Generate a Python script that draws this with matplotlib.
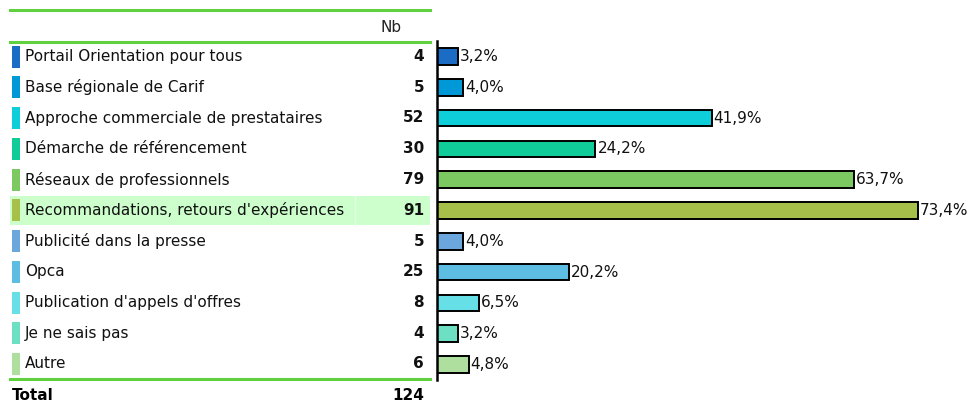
import numpy as np
import matplotlib
matplotlib.use('Agg')
import matplotlib.pyplot as plt
from matplotlib.patches import Rectangle

# données
labels = ['Portail Orientation pour tous', 'Base régionale de Carif',
          'Approche commerciale de prestataires', 'Démarche de référencement',
          'Réseaux de professionnels', "Recommandations, retours d'expériences",
          'Publicité dans la presse', 'Opca', "Publication d'appels d'offres",
          'Je ne sais pas', 'Autre']
counts = [4, 5, 52, 30, 79, 91, 5, 25, 8, 4, 6]
total = 124
colors = ['#1a6cc4', '#0098d6', '#0ecfd9', '#10cc98', '#7cc962', '#a6c04a',
          '#6ba6dc', '#5ebde3', '#66e0e6', '#6de0c3', '#afdf9e']
highlight = 5

pct = [100.0 * c / total for c in counts]
n = len(labels)

W, H = 973, 405
plt.rcParams['font.family'] = ['DejaVu Sans']
fig = plt.figure(figsize=(W / 100, H / 100), dpi=100)

# tableau à gauche, en pixels
tab = fig.add_axes([0, 0, 1, 1])
tab.set_xlim(0, W)
tab.set_ylim(H, 0)
tab.axis('off')

y0, dy = 56.5, 30.75
green = '#5fd13f'
fs = 11

tab.plot([10, 430], [10, 10], color=green, lw=2.2)
tab.plot([10, 430], [42, 42], color=green, lw=2.2)
tab.plot([10, 430], [379, 379], color=green, lw=2.2)
tab.text(391, 27, 'Nb', ha='center', va='center', fontsize=fs, color='#222')

for i, (lab, c, col) in enumerate(zip(labels, counts, colors)):
    yc = y0 + dy * i
    if i == highlight:
        tab.add_patch(Rectangle((10, yc - 14.5), 420, 29, color='#ccffcc', lw=0))
        tab.plot([355, 355], [yc - 14.5, yc + 14.5], color='#e4ffe4', lw=1)
    tab.add_patch(Rectangle((12, yc - 11), 8, 22, color=col, lw=0))
    tab.text(25, yc, lab, ha='left', va='center', fontsize=fs, color='#111')
    tab.text(424, yc, str(c), ha='right', va='center', fontsize=fs,
             fontweight='bold', color='#111')

tab.text(12, 396, 'Total', ha='left', va='center', fontsize=fs, fontweight='bold')
tab.text(424, 396, str(total), ha='right', va='center', fontsize=fs, fontweight='bold')

# barres
scale = 6.55  # px par %
x_left = 437
ax = fig.add_axes([x_left / W, 1 - 380 / H, (W - x_left) / W, (380 - 41) / H])
ax.set_xlim(0, (W - x_left) / scale)
ax.set_ylim(n - 0.5, -0.5)
ax.barh(np.arange(n), pct, height=0.54, color=colors, edgecolor='black', lw=1.4)
for i, p in enumerate(pct):
    ax.text(p + 0.3, i, f'{p:.1f}%'.replace('.', ','), ha='left', va='center',
            fontsize=fs, color='#111')
ax.patch.set_alpha(0)
for s in ['top', 'right', 'bottom']:
    ax.spines[s].set_visible(False)
ax.spines['left'].set_linewidth(1.8)
ax.set_xticks([])
ax.set_yticks([])

fig.savefig('out.png', dpi=100)
